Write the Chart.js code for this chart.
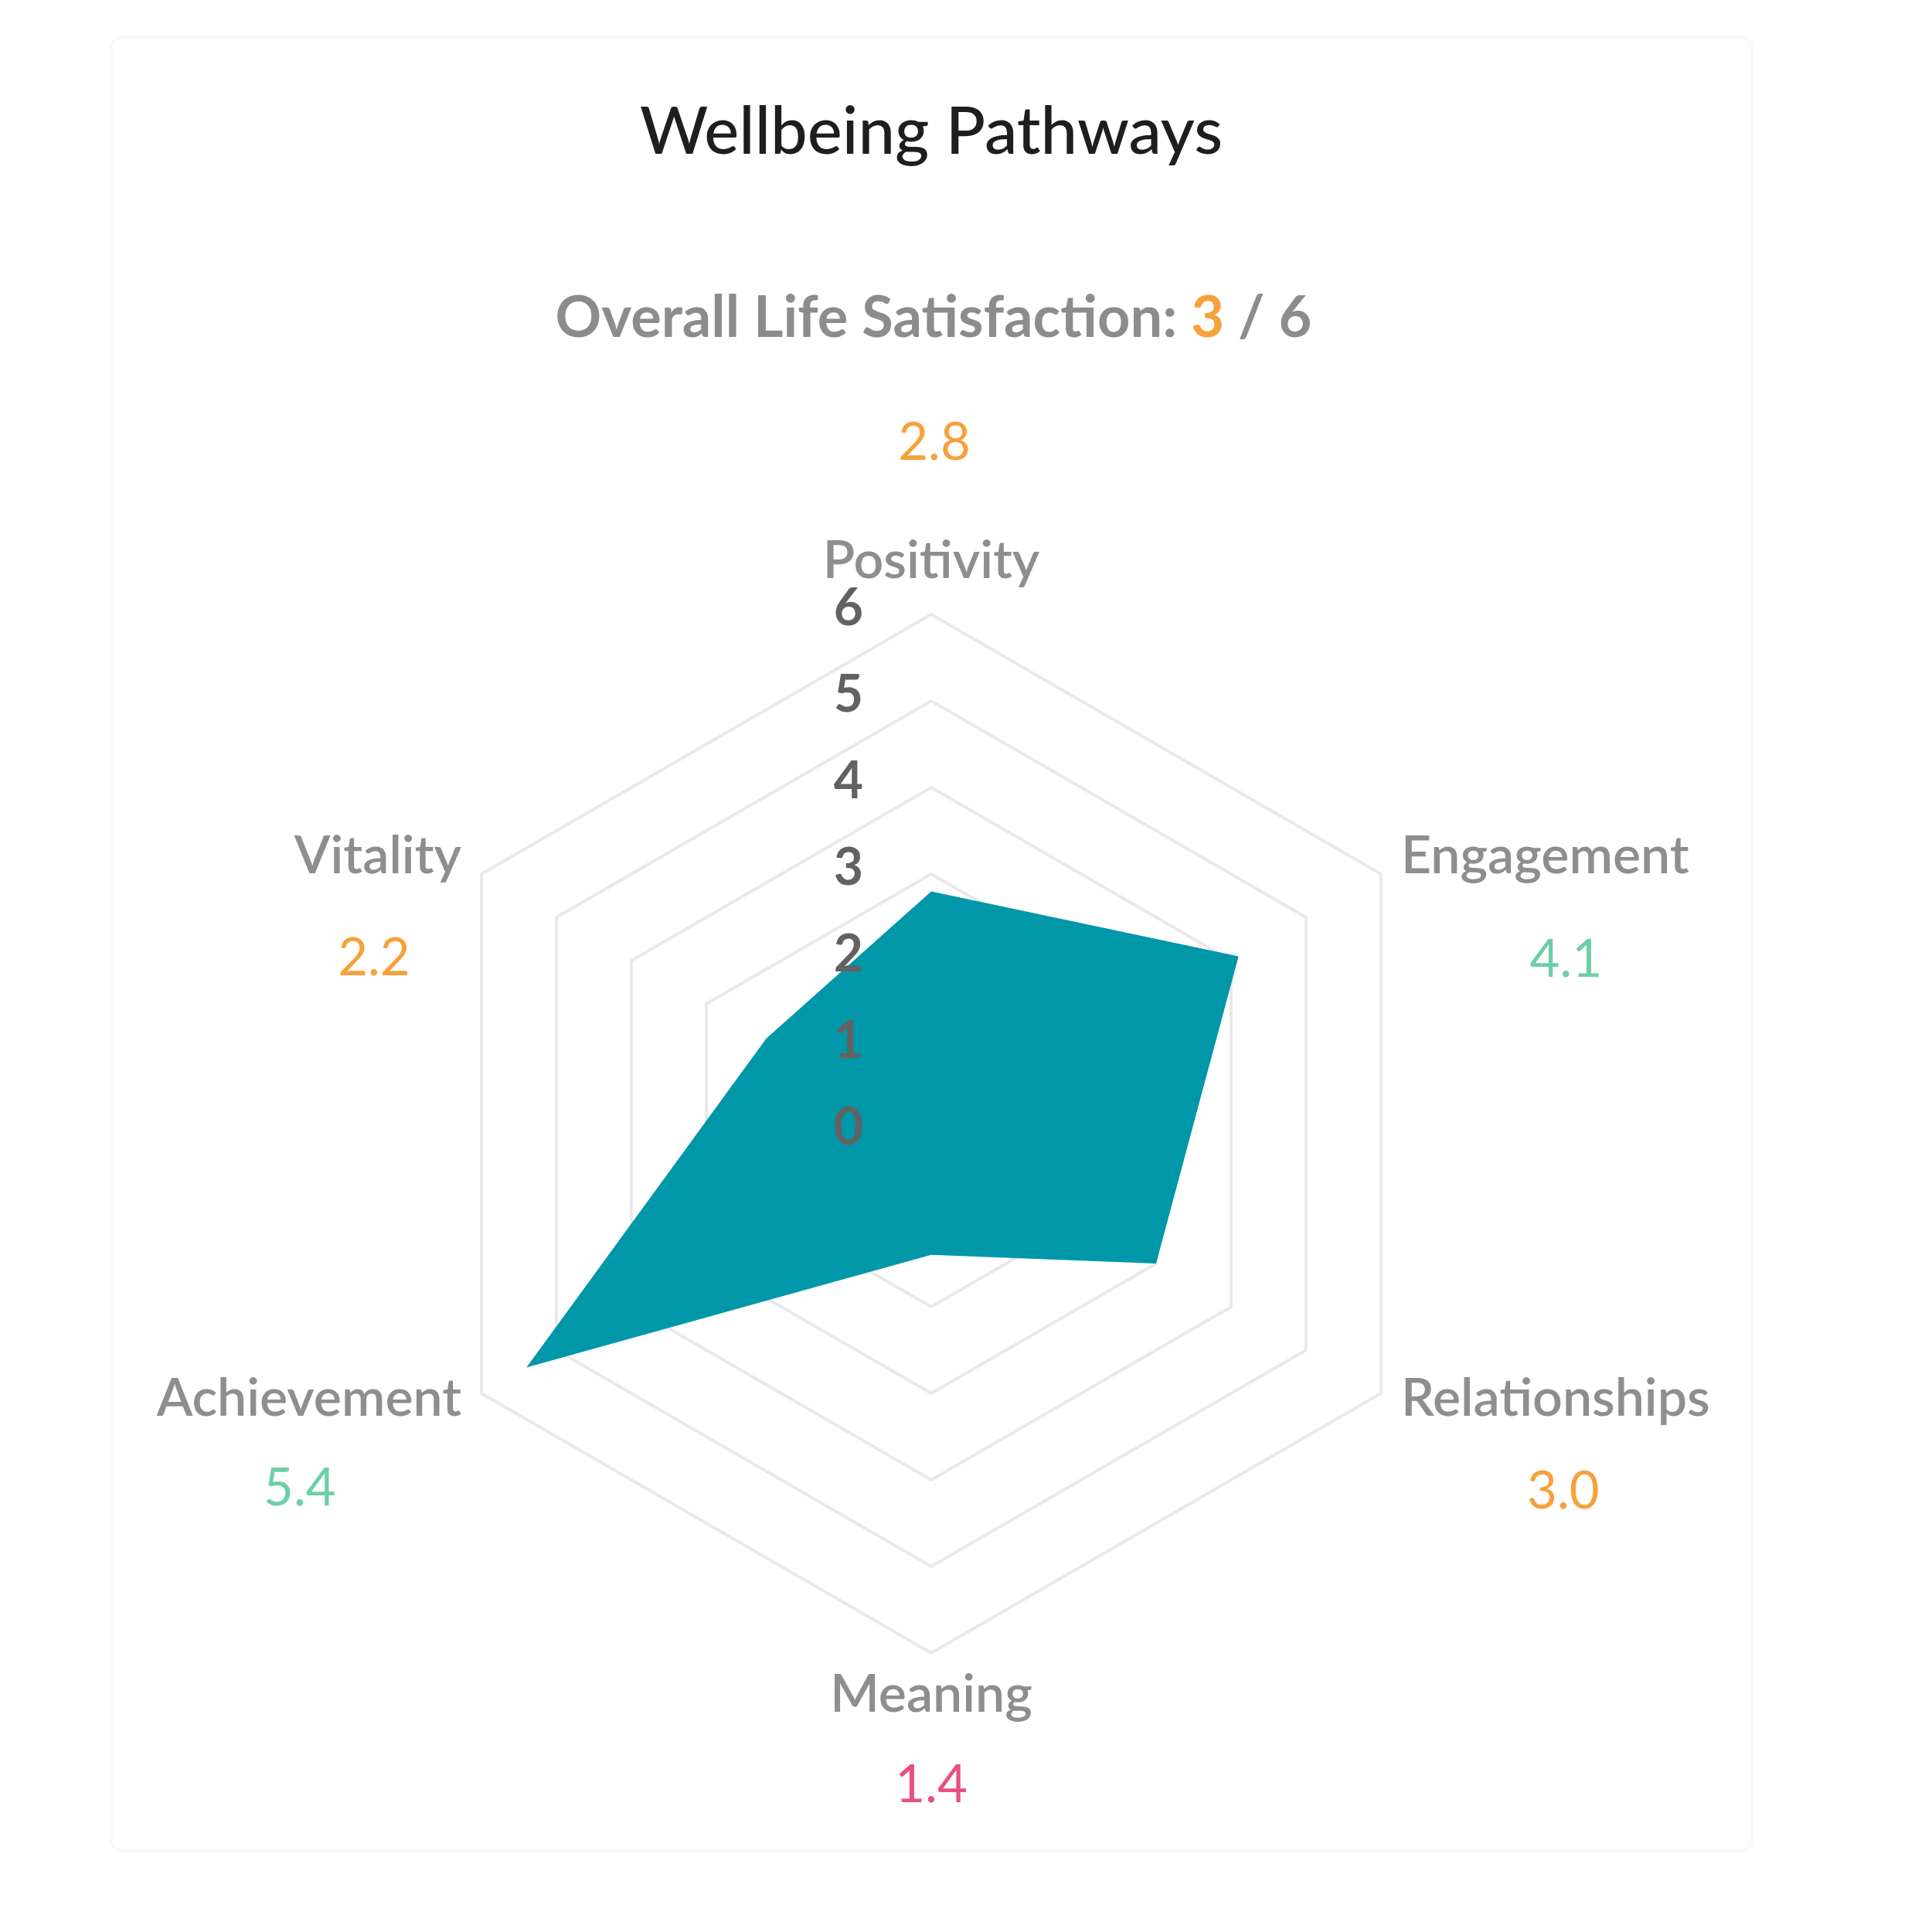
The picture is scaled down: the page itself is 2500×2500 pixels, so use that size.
<!DOCTYPE html>
<html>
<head>
<meta charset="utf-8">
<title>Wellbeing Pathways</title>
<script src="https://cdn.jsdelivr.net/npm/chart.js@4.4.1/dist/chart.umd.min.js"></script>
<style>
  html, body { margin: 0; padding: 0; background: #ffffff; }
  #wrap { width: 2500px; height: 2500px; position: relative; }
  canvas { display: block; }
</style>
</head>
<body>
<div id="wrap"><canvas id="chart" width="2500" height="2500"></canvas></div>
<script>
// ---------------- data ----------------
const chartTitle = 'Wellbeing Pathways';
const subtitleText = 'Overall Life Satisfaction: ';
const overallScore = 3;
const overallMax = 6;
const categories = ['Positivity', 'Engagement', 'Relationships', 'Meaning', 'Achievement', 'Vitality'];
const scores = [2.8, 4.1, 3.0, 1.4, 5.4, 2.2];
const scoreLabels = ['2.8', '4.1', '3.0', '1.4', '5.4', '2.2'];
const scoreColors = ['#F7A13B', '#6DCFA6', '#F7A13B', '#E9507E', '#6DCFA6', '#F7A13B'];
const tickLabels = ['0', '1', '2', '3', '4', '5', '6'];
const axisMin = 0;
const axisMax = 6;

// ---------------- style ----------------
const FONT = 'Lato, "Open Sans", sans-serif';
const labelGap = [69, 30, 30, 54, 30, 30];           // label distance beyond outer ring
const labelLiftY = [0, -8, -8, 0, -8, -8];           // small vertical nudge of labels
const valueOffset = [-153, 134, 120, 117, 116, 132]; // value text relative to label (vertical)
const valueShiftX = [4, 27, 10, 0, -12, -5];         // value text relative to label centre (horizontal)

const decorPlugin = {
  id: 'decor',
  beforeDraw(chart) {
    const ctx = chart.ctx;
    ctx.save();
    ctx.fillStyle = '#ffffff';
    ctx.fillRect(0, 0, chart.width, chart.height);
    // faint card outline
    ctx.strokeStyle = '#f9f8f5';
    ctx.lineWidth = 4;
    const x = 144, y = 48, w = 2123, h = 2347, r = 14;
    ctx.beginPath();
    ctx.moveTo(x + r, y);
    ctx.arcTo(x + w, y, x + w, y + h, r);
    ctx.arcTo(x + w, y + h, x, y + h, r);
    ctx.arcTo(x, y + h, x, y, r);
    ctx.arcTo(x, y, x + w, y, r);
    ctx.closePath();
    ctx.stroke();
    ctx.restore();
  },
  afterDatasetsDraw(chart) {
    const ctx = chart.ctx;
    const scale = chart.scales.r;
    const cx = scale.xCenter, cy = scale.yCenter;
    ctx.save();

    // subtitle with coloured score
    ctx.font = '700 74px ' + FONT;
    ctx.textBaseline = 'middle';
    const p1 = subtitleText, p2 = String(overallScore), p3 = ' / ' + overallMax;
    const w1 = ctx.measureText(p1).width, w2 = ctx.measureText(p2).width, w3 = ctx.measureText(p3).width;
    const sx = cx + 3 - (w1 + w2 + w3) / 2;
    const sy = 412;
    ctx.textAlign = 'left';
    ctx.fillStyle = '#8c8c8c';
    ctx.fillText(p1, sx, sy);
    ctx.fillStyle = scoreColors[2];
    ctx.fillText(p2, sx + w1, sy);
    ctx.fillStyle = '#8c8c8c';
    ctx.fillText(p3, sx + w1 + w2, sy);

    // tick labels (drawn on top of the area)
    ctx.font = '700 66px ' + FONT;
    ctx.fillStyle = '#626262';
    ctx.textAlign = 'center';
    scale.ticks.forEach((t) => {
      const d = scale.getDistanceFromCenterForValue(t.value);
      ctx.fillText(t.label, cx - 107, cy - d - 7);
    });

    // category labels and values
    categories.forEach((name, i) => {
      const pos = scale.getPointPosition(i, scale.drawingArea + labelGap[i]);
      const ly = pos.y + labelLiftY[i];
      ctx.font = '600 68px ' + FONT;
      const lw = ctx.measureText(name).width;
      let align;
      if (Math.abs(pos.x - cx) < 2) align = 'center';
      else if (pos.x > cx) align = 'left';
      else align = 'right';
      ctx.textAlign = align;
      ctx.fillStyle = '#8e8e8e';
      ctx.fillText(name, pos.x, ly);
      const centerX = align === 'center' ? pos.x : (align === 'left' ? pos.x + lw / 2 : pos.x - lw / 2);
      ctx.font = '400 67px ' + FONT;
      ctx.textAlign = 'center';
      ctx.fillStyle = scoreColors[i];
      ctx.fillText(scoreLabels[i], centerX + valueShiftX[i], ly + valueOffset[i]);
    });
    ctx.restore();
  }
};

new Chart(document.getElementById('chart'), {
  type: 'radar',
  data: {
    labels: categories,
    datasets: [{
      label: 'Wellbeing',
      data: scores,
      backgroundColor: '#0097A9',
      borderWidth: 0,
      borderColor: 'rgba(0,0,0,0)',
      pointRadius: 0,
      pointHoverRadius: 0,
      fill: 'start'
    }]
  },
  options: {
    responsive: false,
    animation: false,
    devicePixelRatio: 1,
    layout: { padding: { left: 533, right: 623, top: 0, bottom: 361 } },
    plugins: {
      legend: { display: false },
      tooltip: { enabled: false },
      title: {
        display: true,
        text: chartTitle,
        color: '#1e1e1e',
        font: { family: FONT, size: 85, weight: '500', lineHeight: 1.2 },
        padding: { top: 121, bottom: 572 }
      }
    },
    scales: {
      r: {
        min: axisMin,
        max: axisMax,
        ticks: {
          stepSize: 1,
          display: false,
          callback: (v) => tickLabels[v]
        },
        grid: { color: '#e9e9e9', lineWidth: 4 },
        angleLines: { display: false },
        pointLabels: { display: false }
      }
    }
  },
  plugins: [decorPlugin]
});
</script>
</body>
</html>
